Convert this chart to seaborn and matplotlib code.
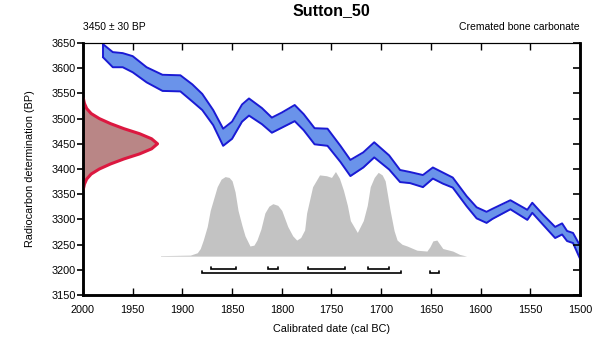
import numpy as np
import seaborn as sns
import matplotlib.pyplot as plt

# measurement
r_label = "3450 ± 30 BP"
sample_name = "Sutton_50"
material = "Cremated bone carbonate"

# calibration curve (cal BC, BP, 1 sigma)
curve_year = [1980, 1970, 1960, 1950, 1936, 1920, 1902, 1890, 1880, 1869, 1859, 1850,
              1840, 1833, 1820, 1810, 1800, 1787, 1778, 1767, 1754, 1741, 1731, 1718,
              1707, 1692, 1681, 1671, 1658, 1648, 1638, 1628, 1614, 1604, 1594, 1588,
              1570, 1553, 1548, 1537, 1525, 1518, 1513, 1507, 1500]
curve_bp = [3635, 3617, 3616, 3608, 3587, 3571, 3570, 3551, 3533, 3502, 3463, 3477,
            3511, 3523, 3505, 3487, 3497, 3511, 3493, 3465, 3463, 3430, 3402, 3418,
            3438, 3413, 3386, 3383, 3376, 3392, 3382, 3373, 3336, 3313, 3304, 3311,
            3329, 3309, 3323, 3299, 3274, 3281, 3267, 3263, 3235]
curve_err = [13, 15, 14, 16, 15, 16, 16, 17, 16, 15, 17, 17,
             17, 17, 16, 15, 15, 16, 16, 16, 17, 16, 16, 15,
             15, 14, 12, 11, 12, 11, 11, 10, 10, 11, 11, 10,
             9, 10, 10, 10, 11, 11, 10, 10, 13]

# radiocarbon measurement distribution (BP, relative probability)
r_bp = [3360, 3370, 3380, 3390, 3400, 3410, 3420, 3430, 3440, 3450,
        3460, 3470, 3480, 3490, 3500, 3510, 3520, 3530, 3540]
r_prob = [0.005, 0.02, 0.05, 0.11, 0.22, 0.37, 0.55, 0.76, 0.92, 1.0,
          0.92, 0.76, 0.55, 0.37, 0.22, 0.11, 0.05, 0.02, 0.005]

# calibrated distribution (cal BC, relative probability)
cal_year = [1922, 1892, 1885, 1882, 1879, 1875, 1872, 1868, 1865, 1861, 1857, 1853,
            1850, 1847, 1844, 1840, 1837, 1832, 1828, 1825, 1821, 1817, 1813, 1809,
            1804, 1800, 1794, 1789, 1785, 1781, 1777, 1775, 1769, 1762, 1755, 1750,
            1746, 1742, 1738, 1734, 1731, 1724, 1718, 1714, 1711, 1707, 1703, 1699,
            1696, 1691, 1687, 1684, 1679, 1674, 1664, 1654, 1651, 1648, 1644, 1638,
            1628, 1621, 1614]
cal_prob = [0.006, 0.012, 0.04, 0.09, 0.19, 0.35, 0.54, 0.70, 0.82, 0.91, 0.94, 0.93,
            0.89, 0.76, 0.54, 0.36, 0.24, 0.12, 0.13, 0.19, 0.32, 0.51, 0.59, 0.62,
            0.60, 0.54, 0.35, 0.24, 0.19, 0.22, 0.31, 0.51, 0.82, 0.96, 0.95, 0.93,
            1.0, 0.92, 0.78, 0.60, 0.42, 0.28, 0.42, 0.60, 0.82, 0.93, 0.99, 0.96,
            0.89, 0.54, 0.30, 0.19, 0.14, 0.12, 0.07, 0.06, 0.11, 0.18, 0.19, 0.09,
            0.06, 0.02, 0.0]

# highest probability density ranges
hpd68 = [(1871, 1846), (1814, 1804), (1774, 1736), (1713, 1692)]
hpd95 = [(1880, 1680), (1651, 1642)]

sns.set_theme(style="ticks")
plt.rcParams['font.family'] = ['Liberation Sans', 'DejaVu Sans']
plt.rcParams['text.color'] = 'black'
plt.rcParams['axes.labelcolor'] = 'black'

fig, ax = plt.subplots(figsize=(5.97, 3.39), dpi=100)
fig.subplots_adjust(left=0.139, right=0.9715, top=0.873, bottom=0.130)

cy = np.array(curve_year)
cb = np.array(curve_bp)
ce = np.array(curve_err)
edge = "#1a1ad4"

# calibration band
ax.fill_between(cy, cb - ce, cb + ce, color="#6a93ea", lw=0, zorder=2)
sns.lineplot(x=cy, y=cb + ce, color=edge, lw=1.4, ax=ax, zorder=3, sort=False)
sns.lineplot(x=cy, y=cb - ce, color=edge, lw=1.4, ax=ax, zorder=3, sort=False)
ax.plot([cy[0], cy[0]], [cb[0] - ce[0], cb[0] + ce[0]], color=edge, lw=1.4, zorder=3)

# measurement distribution on y axis
rw = np.array(r_prob) * 75
ax.fill_betweenx(r_bp, 2000, 2000 - rw, color="#b98686", lw=0, zorder=2)
ax.plot(2000 - rw, r_bp, color="#dc1840", lw=2.2, zorder=3)

# calibrated distribution
base = 3227
ax.fill_between(cal_year, base, base + np.array(cal_prob) * 168,
                color="#c3c3c3", lw=0, zorder=1)

# ranges
def bracket(rngs, y):
    for a, b in rngs:
        ax.plot([a, a, b, b], [y + 4, y, y, y + 4], color="black", lw=1.2,
                solid_joinstyle="miter", zorder=3)

bracket(hpd68, 3201)
bracket(hpd95, 3193)

ax.set_xlim(2000, 1500)
ax.set_ylim(3150, 3650)
ax.set_xticks(np.arange(2000, 1499, -50))
ax.set_yticks(np.arange(3150, 3651, 50))
ax.tick_params(axis="y", left=True, right=False, direction="out",
               length=4, width=1.2, labelsize=7.8, pad=1, colors="black")
ax.tick_params(axis="x", top=True, bottom=True, direction="in",
               length=5, width=1, labelsize=7.8, pad=7, colors="black")

# right-hand inward ticks
ax2 = ax.twinx()
ax2.set_ylim(3150, 3650)
ax2.set_yticks(np.arange(3150, 3651, 50))
ax2.tick_params(axis="y", right=True, direction="in", length=5, width=1.2,
                labelright=False, colors="black")

for a in (ax, ax2):
    for s in ["left", "bottom", "right"]:
        a.spines[s].set_linewidth(1.8)
        a.spines[s].set_color("black")
    a.spines["top"].set_linewidth(0.8)
    a.spines["top"].set_color("black")

ax.set_xlabel("Calibrated date (cal BC)", fontsize=7.8, labelpad=7, color="black")
ax.set_ylabel("Radiocarbon determination (BP)", fontsize=7.8, labelpad=12, color="black")

fig.text(0.5552, 0.97, sample_name, ha="center", va="center",
         fontsize=11.5, fontweight="bold", color="black")
fig.text(0.139, 0.905, r_label, ha="left", va="bottom", fontsize=7.5, color="black")
fig.text(0.9715, 0.905, material, ha="right", va="bottom", fontsize=7.5, color="black")

fig.savefig("out.png", dpi=100, facecolor="white")
